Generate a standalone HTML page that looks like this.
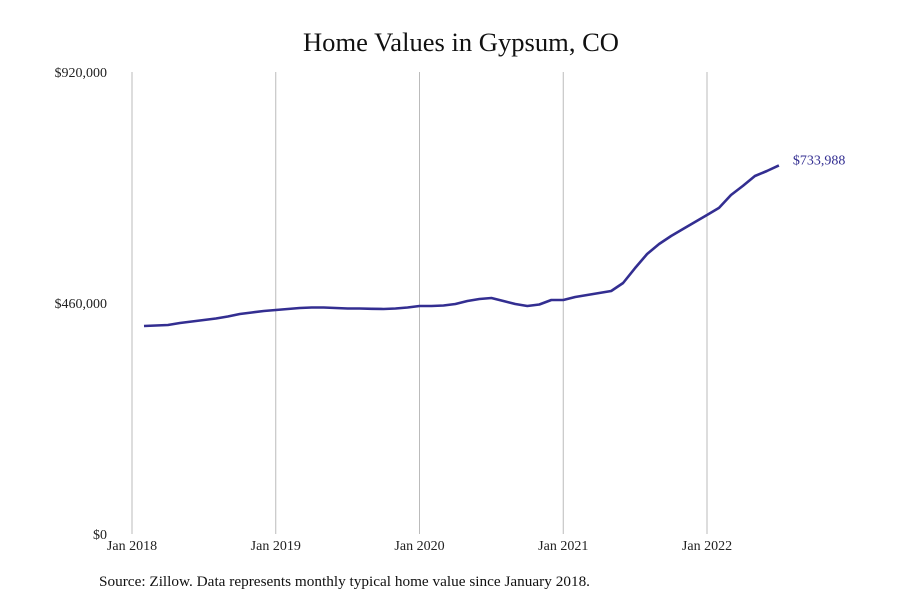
<!DOCTYPE html>
<html><head><meta charset="utf-8"><style>
body{margin:0;background:#fff;}
svg text{font-family:"Liberation Serif",serif;}
</style></head><body>
<svg width="900" height="600" xmlns="http://www.w3.org/2000/svg">
<text x="303" y="51" font-size="26" fill="#111" textLength="316" lengthAdjust="spacingAndGlyphs">Home Values in Gypsum, CO</text>
<g id="grid"></g>
<g id="yax"></g>
<g id="xax"></g>
<path id="line" fill="none" stroke="#332e91" stroke-width="2.6" stroke-linejoin="round"/>
<text id="endlbl" font-size="14" fill="#332e91"></text>
<text x="99" y="586" font-size="15" fill="#111" textLength="491" lengthAdjust="spacingAndGlyphs">Source: Zillow. Data represents monthly typical home value since January 2018.</text>
</svg>
<script>
const yTicks=[0,460000,920000];
const yTickLabels=["$0","$460,000","$920,000"];
const xTickYears=["Jan 2018","Jan 2019","Jan 2020","Jan 2021","Jan 2022"];
const startMonth=1; // Feb 2018 (months since Jan 2018)
const values=[414200,415200,416200,420200,423200,426100,429100,433100,438100,441100,444100,446100,
448000,450000,451000,451000,450000,449000,449000,448400,448000,449000,451000,454000,
454000,455000,458000,464000,468000,470000,464000,458000,454000,457000,466000,466000,
472000,475900,479900,483900,499800,529700,557600,577500,593400,607400,621300,635300,
649400,675100,693200,712900,722900,733988];
const NS="http://www.w3.org/2000/svg";
const x0=132,pxPerMonth=143.75/12,yBase=534,yTop=72,yMax=920000;
const xs=m=>x0+m*pxPerMonth;
const ys=v=>yBase-(v/yMax)*(yBase-yTop);
function mk(tag,attrs,parent,txt){const e=document.createElementNS(NS,tag);for(const k in attrs)e.setAttribute(k,attrs[k]);if(txt!==undefined)e.textContent=txt;parent.appendChild(e);return e;}
const grid=document.getElementById('grid'),yax=document.getElementById('yax'),xax=document.getElementById('xax');
xTickYears.forEach((lab,i)=>{const x=xs(i*12);
const l=mk('line',{x1:x,x2:x,y1:yTop,y2:yBase,stroke:'#bbb','stroke-width':1},grid);


const t=mk('text',{x:x,y:550,'text-anchor':'middle','font-size':14,fill:'#222'},xax,lab);

});
yTicks.forEach((v,i)=>{const t=mk('text',{x:107,y:ys(v)+5,'text-anchor':'end','font-size':14,fill:'#222'},yax,yTickLabels[i]);

});
let d='';values.forEach((v,i)=>{d+=(i?'L':'M')+xs(startMonth+i).toFixed(1)+','+ys(v).toFixed(1);});
document.getElementById('line').setAttribute('d',d);
const last=values[values.length-1],lx=xs(startMonth+values.length-1);
const el=document.getElementById('endlbl');
el.setAttribute('x',lx+14);el.setAttribute('y',ys(last)-1);
el.textContent='$'+last.toLocaleString('en-US');
</script>
</body></html>
